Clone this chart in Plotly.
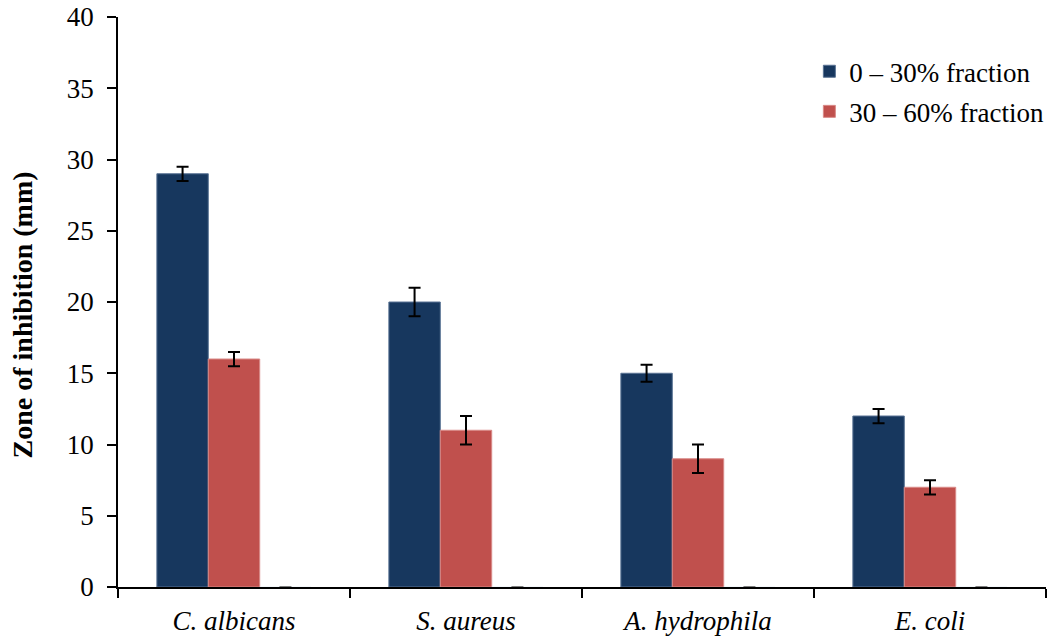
import plotly.graph_objects as go

organisms = ["C. albicans", "S. aureus", "A. hydrophila", "E. coli"]
frac_0_30 = [29, 20, 15, 12]
frac_0_30_err = [0.5, 1.0, 0.6, 0.5]
frac_30_60 = [16, 11, 9, 7]
frac_30_60_err = [0.5, 1.0, 1.0, 0.5]
frac_60_90 = [0, 0, 0, 0]
frac_60_90_err = [0, 0, 0, 0]

labels = [f"<i>{o}</i>" for o in organisms]
font = "Liberation Serif, Times New Roman, serif"

err_style = dict(type="data", visible=True, color="black", thickness=2, width=6)

fig = go.Figure()
fig.add_trace(go.Bar(
    x=labels, y=frac_0_30, name="0 \u2013 30% fraction",
    marker=dict(color="#17375E", line=dict(color="#5a7394", width=1)),
    error_y=dict(array=frac_0_30_err, **err_style),
    legendgroup="a",
))
fig.add_trace(go.Bar(
    x=labels, y=frac_30_60, name="30 \u2013 60% fraction",
    marker=dict(color="#C0504D", line=dict(color="#d98a88", width=1)),
    error_y=dict(array=frac_30_60_err, **err_style),
    legendgroup="b",
))
fig.add_trace(go.Bar(
    x=labels, y=frac_60_90, name="60 \u2013 90% fraction",
    marker=dict(color="#9BBB59"),
    error_y=dict(array=frac_60_90_err, type="data", visible=True,
                 color="#555555", thickness=1.5, width=6),
    showlegend=False,
))

# vertical axis title placed as a rotated annotation left of the tick labels
fig.add_annotation(
    text="<b>Zone of inhibition (mm)</b>", textangle=-90,
    xref="paper", yref="paper", x=-0.1031, y=0.477,
    xanchor="center", yanchor="middle", showarrow=False,
    font=dict(family=font, size=28, color="black"),
)

fig.update_layout(
    width=1054, height=636,
    margin=dict(l=118, r=5, t=17, b=49),
    paper_bgcolor="white", plot_bgcolor="white",
    barmode="group", bargap=0.335, bargroupgap=0,
    font=dict(family=font, size=27, color="black"),
    legend=dict(
        x=0.745, y=0.947, xanchor="left", yanchor="top",
        font=dict(family=font, size=27, color="black"),
        bgcolor="rgba(0,0,0,0)", traceorder="grouped", tracegroupgap=2,
    ),
    xaxis=dict(
        showline=True, linecolor="black", linewidth=1.5, automargin=False,
        ticks="outside", tickson="boundaries", ticklen=9, tickwidth=1.5,
        tickcolor="black", showgrid=False, ticklabelstandoff=9,
        tickfont=dict(family=font, size=27, color="black"),
    ),
    yaxis=dict(
        range=[0, 40], dtick=5, showline=True, linecolor="black", linewidth=1.5,
        ticks="outside", ticklen=9, tickwidth=1.5, tickcolor="black",
        showgrid=False, zeroline=False, ticklabelstandoff=8, automargin=False,
        tickfont=dict(family=font, size=27, color="black"),
    ),
)

fig.write_html("out.html")
